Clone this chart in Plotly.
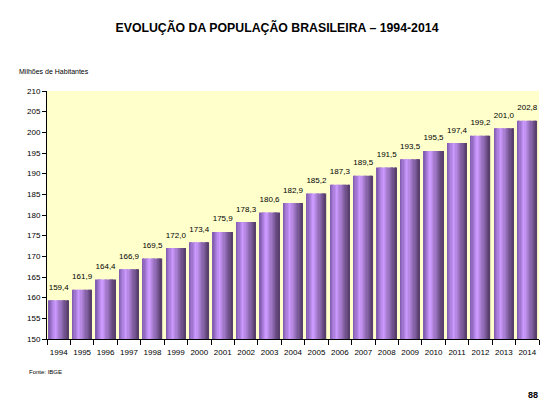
import plotly.graph_objs as go

# Dados: população brasileira (milhões)
anos = [str(a) for a in range(1994, 2015)]
populacao = [159.4, 161.9, 164.4, 166.9, 169.5, 172.0, 173.4, 175.9, 178.3,
             180.6, 182.9, 185.2, 187.3, 189.5, 191.5, 193.5, 195.5, 197.4,
             199.2, 201.0, 202.8]

y_ticks = list(range(150, 211, 5))

# a página html tem margem de 8px no body
OFF = 8
W, H = 557 - OFF, 419 - OFF
L, R, T, B = 47 - OFF, 18, 91 - OFF, 80
NARROW = 'Liberation Sans Narrow, Arial Narrow, Arial'

# gradiente horizontal das barras (faixas sobrepostas)
stops = [(0.0, (125, 88, 172)), (0.35, (205, 155, 255)), (1.0, (82, 58, 102))]


def cor(t):
    for (t0, c0), (t1, c1) in zip(stops[:-1], stops[1:]):
        if t <= t1:
            f = (t - t0) / (t1 - t0)
            return 'rgb(%d,%d,%d)' % tuple(round(a + (b - a) * f) for a, b in zip(c0, c1))
    return 'rgb(%d,%d,%d)' % stops[-1][1]


def px(x, y):
    # pixel da tela -> coordenadas de papel
    x, y = x - OFF, y - OFF
    return (x - L) / (W - L - R), (H - B - y) / (H - T - B)


largura = 0.83
n_faixas = 16
fig = go.Figure()
for i in range(n_faixas):
    w = largura / n_faixas
    fig.add_trace(go.Bar(x=anos, y=populacao,
                         width=w * 1.05,
                         offset=-largura / 2 + i * w,
                         marker=dict(color=cor((i + 0.5) / n_faixas), line=dict(width=0)),
                         hoverinfo='skip', showlegend=False))

# rótulos de valores (marcador invisível só para afastar o texto da barra)
fig.add_trace(go.Scatter(x=anos, y=populacao, mode='markers+text',
                         marker=dict(size=12, color='rgba(0,0,0,0)'),
                         text=[('%.1f' % v).replace('.', ',') for v in populacao],
                         textposition='top center',
                         textfont=dict(family=NARROW, size=8, color='black'),
                         hoverinfo='skip', showlegend=False))

notas = [('Milhões de Habitantes', 17, 72, 7, 'left'),
         ('Fonte: IBGE', 27, 372, 6, 'left'),
         ('<b>88</b>', 533, 395, 9, 'center')]
annotations = []
for txt, x, y, s, anc in notas:
    xp, yp = px(x, y)
    annotations.append(dict(text=txt, x=xp, y=yp, xref='paper', yref='paper',
                            showarrow=False, font=dict(size=s, family=NARROW),
                            xanchor=anc, yanchor='middle'))

fig.update_layout(
    width=W, height=H,
    barmode='overlay',
    paper_bgcolor='white',
    plot_bgcolor='#FFFFCC',
    margin=dict(l=L, r=R, t=T, b=B),
    font=dict(family=NARROW, size=8, color='black'),
    title=dict(text='<b>EVOLUÇÃO DA POPULAÇÃO BRASILEIRA – 1994-2014</b>',
               x=(277 - OFF) / W, xref='container', xanchor='center',
               y=1 - (28 - OFF) / H, yref='container', yanchor='middle',
               font=dict(family='Arial', size=12.3, color='black')),
    xaxis=dict(type='category', range=[-0.5, len(anos) - 0.5],
               tickson='boundaries', ticks='outside',
               ticklen=5, tickcolor='black', showline=True, linecolor='black',
               linewidth=1, showgrid=False, tickangle=0, automargin=False,
               ticklabelstandoff=5, tickfont=dict(size=8)),
    yaxis=dict(range=[150, 210], tickvals=y_ticks, ticks='outside',
               ticklen=4, tickcolor='black', showline=True, linecolor='black',
               linewidth=1, showgrid=False, zeroline=False, automargin=False,
               tickfont=dict(size=8)),
    annotations=annotations,
)

fig.write_html("out.html")
